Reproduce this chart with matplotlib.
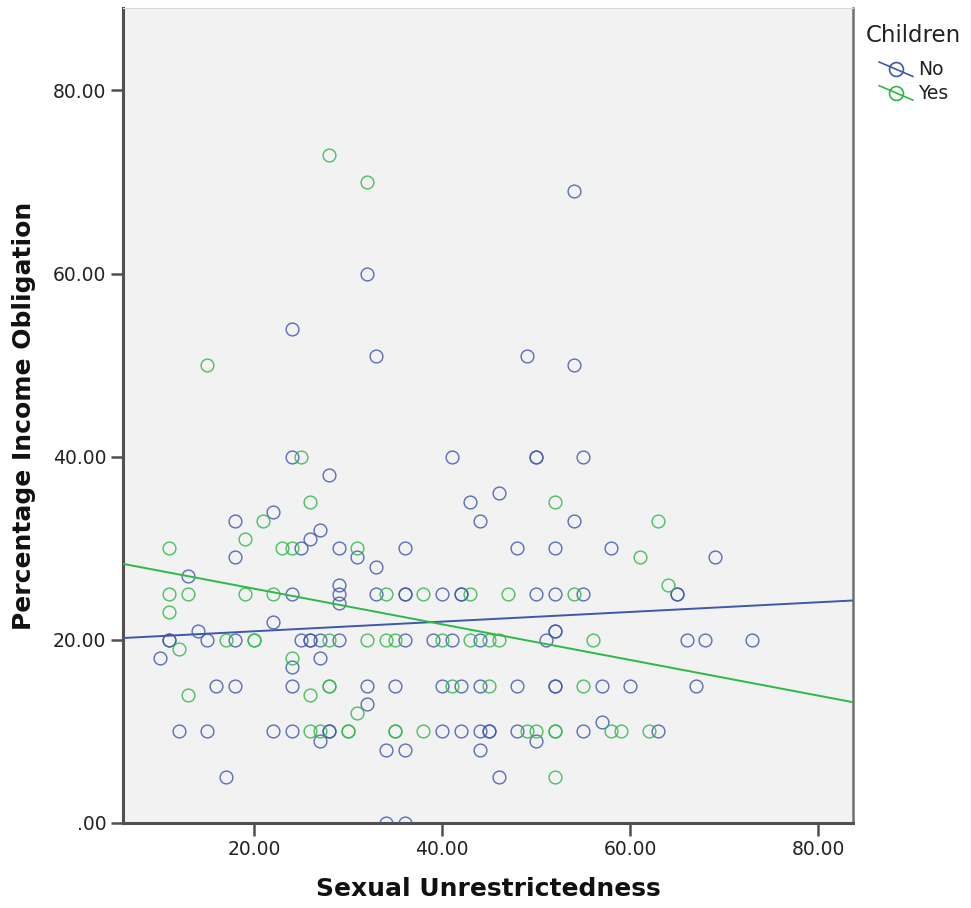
import numpy as np
import matplotlib
matplotlib.use("Agg")
import matplotlib.pyplot as plt
from matplotlib.lines import Line2D

# ---------------- data ----------------
no_x = [54, 32, 24, 33, 49, 54,
        24, 28, 22, 18, 27, 26, 25, 29, 31, 18, 13, 24, 29, 29, 29, 22, 14,
        41, 50, 50, 55, 46, 43, 44, 54, 36, 48, 52, 58, 33,
        33, 36, 36, 40, 42, 42, 50, 52, 55, 52, 52,
        69, 65, 65,
        11, 11, 15, 18, 25, 26, 26, 27, 29,
        10, 24, 27, 16, 18, 24, 32, 32,
        12, 15, 22, 24, 28, 28, 27, 17,
        36, 39, 41, 44, 51,
        35, 40, 42, 44, 48, 52, 52, 57,
        40, 42, 44, 45, 45, 48, 50, 55, 57,
        34, 36, 44, 46, 34, 36,
        66, 68, 73, 60, 67, 63]
no_y = [69, 60, 54, 51, 51, 50,
        40, 38, 34, 33, 32, 31, 30, 30, 29, 29, 27, 25, 26, 25, 24, 22, 21,
        40, 40, 40, 40, 36, 35, 33, 33, 30, 30, 30, 30, 28,
        25, 25, 25, 25, 25, 25, 25, 25, 25, 21, 21,
        29, 25, 25,
        20, 20, 20, 20, 20, 20, 20, 20, 20,
        18, 17, 18, 15, 15, 15, 15, 13,
        10, 10, 10, 10, 10, 10, 9, 5,
        20, 20, 20, 20, 20,
        15, 15, 15, 15, 15, 15, 15, 15,
        10, 10, 10, 10, 10, 10, 9, 10, 11,
        8, 8, 8, 5, 0, 0,
        20, 20, 20, 15, 15, 10]

yes_x = [28, 32, 15, 25, 26, 21, 19, 11, 23, 24, 31,
         11, 13, 19, 22, 11,
         34, 38, 43, 47, 52, 54,
         63, 61, 64,
         17, 20, 20, 28, 32, 12, 24, 28, 28, 13, 26, 31, 26, 27, 30, 30,
         34, 35, 40, 43, 45, 46, 56,
         41, 45, 55,
         35, 35, 38, 49, 50, 52, 52, 52,
         58, 59, 62]
yes_y = [73, 70, 50, 40, 35, 33, 31, 30, 30, 30, 30,
         25, 25, 25, 25, 23,
         25, 25, 25, 25, 35, 25,
         33, 29, 26,
         20, 20, 20, 20, 20, 19, 18, 15, 15, 14, 14, 12, 10, 10, 10, 10,
         20, 20, 20, 20, 20, 20, 20,
         15, 15, 15,
         10, 10, 10, 10, 10, 10, 10, 5,
         10, 10, 10]

groups = ["No", "Yes"]
# fit-line coefficients (intercept, slope) per group, as shown in the chart
fit_intercept = [19.88, 29.48]
fit_slope = [0.0528, -0.1946]

x_ticks = [20, 40, 60, 80]
x_tick_labels = ["20.00", "40.00", "60.00", "80.00"]
y_ticks = [0, 20, 40, 60, 80]
y_tick_labels = [".00", "20.00", "40.00", "60.00", "80.00"]

# ---------------- style ----------------
BLUE = "#3E58AC"
GREEN = "#2EB848"
BG = "#F2F2F2"
XLIM = (6.06, 83.7)
YLIM = (0, 89.0)

plt.rcParams['font.family'] = ['DejaVu Sans']

fig = plt.figure(figsize=(9.71, 9.08), dpi=100)
ax = fig.add_axes([123 / 971, 1 - 823 / 908, (853 - 123) / 971, (823 - 8) / 908])
ax.set_facecolor(BG)

series = [(no_x, no_y, BLUE), (yes_x, yes_y, GREEN)]
handles = []
for (xs, ys, col), name, a, b in zip(series, groups, fit_intercept, fit_slope):
    h, = ax.plot(xs, ys, linestyle='none', marker='o', markersize=9.2,
                 markerfacecolor='none', markeredgecolor=col, markeredgewidth=1.0,
                 alpha=0.85, label=name, zorder=3)
    handles.append(h)
    xx = np.array(XLIM)
    ax.plot(xx, a + b * xx, color=col, lw=1.4, zorder=4)

ax.set_xlim(*XLIM)
ax.set_ylim(*YLIM)
ax.set_xticks(x_ticks)
ax.set_xticklabels(x_tick_labels)
ax.set_yticks(y_ticks)
ax.set_yticklabels(y_tick_labels)
ax.tick_params(axis='both', direction='out', length=9, width=1.8,
               color='#505050', labelsize=13.5, labelcolor='#222222', pad=3)

for s in ['left', 'bottom']:
    ax.spines[s].set_color('#505050')
    ax.spines[s].set_linewidth(2.2)
ax.spines['right'].set_color('#707070')
ax.spines['right'].set_linewidth(1.8)
ax.spines['top'].set_color('#D8D8D8')
ax.spines['top'].set_linewidth(0.8)

ax.set_xlabel("Sexual Unrestrictedness", fontsize=18, fontweight='bold',
              color='#111111', labelpad=13)
ax.set_ylabel("Percentage Income Obligation", fontsize=18, fontweight='bold',
              color='#111111', labelpad=12)


class DiagHandler:
    def legend_artist(self, legend, orig_handle, fontsize, handlebox):
        x0, y0 = handlebox.xdescent, handlebox.ydescent
        w, h = handlebox.width, handlebox.height
        col = orig_handle.get_markeredgecolor()
        tr = handlebox.get_transform()
        ln = Line2D([x0, x0 + w], [y0 + h, y0 - 0.1 * h], color=col, lw=1.2, transform=tr)
        mk = Line2D([x0 + w / 2], [y0 + h / 2 - 0.05 * h], marker='o', markersize=10,
                    markerfacecolor='none', markeredgecolor=col, markeredgewidth=1.2,
                    linestyle='none', transform=tr)
        handlebox.add_artist(ln)
        handlebox.add_artist(mk)
        return ln


fig.text(866 / 971, 1 - 35 / 908, "Children", fontsize=16.5, color='#222222',
         ha='left', va='center')
leg = fig.legend(handles=handles, labels=groups,
                 loc='upper left', bbox_to_anchor=(866 / 971, 1 - 47 / 908),
                 frameon=False, fontsize=13.5,
                 handler_map={Line2D: DiagHandler()}, handlelength=1.8,
                 handletextpad=0.3, labelspacing=0.25, borderpad=0.2)
for t in leg.get_texts():
    t.set_color('#222222')

fig.savefig("out.png", dpi=100, facecolor='white')
